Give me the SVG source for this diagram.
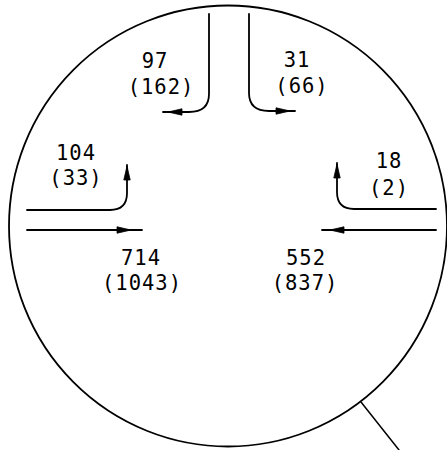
<svg xmlns="http://www.w3.org/2000/svg" width="447" height="450" viewBox="0 0 447 450">
<style>
.ln{fill:none;stroke:#000;stroke-width:1.8;stroke-linecap:round}
.ah{fill:#000;stroke:#000;stroke-width:0.8}
.t{font-family:"DejaVu Sans Mono","Liberation Mono",monospace;font-size:20.5px;letter-spacing:1px;text-anchor:middle;fill:#000}
</style>
<defs>
<path id="head" d="M0,0 L-14,-3.2 L-14,3.2 Z"/>
</defs>
<g id="boundary">
<ellipse cx="228" cy="226" rx="219" ry="220.5" class="ln"/>
<line x1="361" y1="402" x2="399" y2="450" class="ln" style="stroke-width:1.5"/>
</g>
<g id="connectors">
<path class="ln" d="M209,14 V94 Q209,112 189,112 H163"/>
<use href="#head" class="ah" transform="translate(168,112) rotate(180)"/>
<path class="ln" d="M249,14 V93 Q249,111 269,111 H295"/>
<use href="#head" class="ah" transform="translate(290,111)"/>
<path class="ln" d="M27,210 H110 Q127,210 127,193 V165"/>
<use href="#head" class="ah" transform="translate(127,166) rotate(-90)"/>
<path class="ln" d="M436,209 H354 Q337,209 337,192 V163"/>
<use href="#head" class="ah" transform="translate(337,164) rotate(-90)"/>
<path class="ln" d="M27,230 H142"/>
<use href="#head" class="ah" transform="translate(131,230)"/>
<path class="ln" d="M436,230 H322"/>
<use href="#head" class="ah" transform="translate(330,230) rotate(180)"/>
</g>
<g id="n-sb-right"><text class="t" x="155" y="68">97</text><text class="t" x="161" y="94">(162)</text></g>
<g id="n-sb-left"><text class="t" x="297" y="67">31</text><text class="t" x="302" y="93">(66)</text></g>
<g id="n-eb-left"><text class="t" x="76" y="160">104</text><text class="t" x="76" y="185">(33)</text></g>
<g id="n-wb-right"><text class="t" x="389" y="168">18</text><text class="t" x="389" y="195">(2)</text></g>
<g id="n-eb-thru"><text class="t" x="141" y="265">714</text><text class="t" x="142" y="290">(1043)</text></g>
<g id="n-wb-thru"><text class="t" x="306" y="265">552</text><text class="t" x="305" y="290">(837)</text></g>
</svg>
